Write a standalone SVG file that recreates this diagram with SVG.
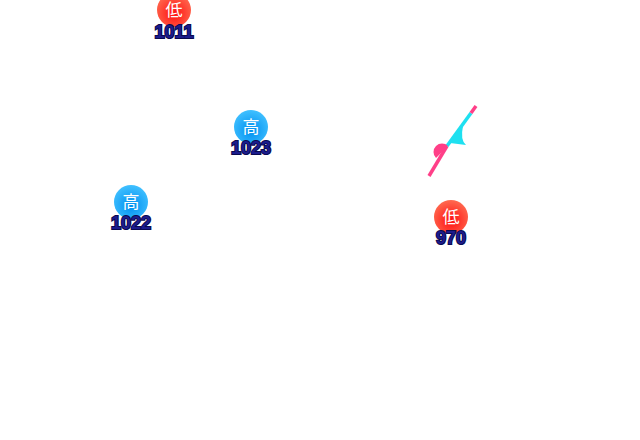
<svg xmlns="http://www.w3.org/2000/svg" width="640" height="440" viewBox="0 0 640 440">
<style>
.lbl{font-family:"Noto Sans CJK JP","Noto Sans",sans-serif;font-size:17px;fill:#fff;text-anchor:middle}
.num{font-family:"Liberation Sans",Arial,sans-serif;font-weight:bold;font-size:18px;fill:#1c1c8c;stroke:#0a0a50;stroke-width:2;paint-order:stroke;text-anchor:middle}
</style>
<defs>
<radialGradient id="gl" cx="0.5" cy="0.6" r="0.6"><stop offset="0" stop-color="#ff1010"/><stop offset="1" stop-color="#ff6a50"/></radialGradient>
<radialGradient id="gh" cx="0.5" cy="0.6" r="0.6"><stop offset="0" stop-color="#0090f0"/><stop offset="1" stop-color="#40c0ff"/></radialGradient>
</defs>
<rect width="640" height="440" fill="#fff"/>
<g id="connectors">
<path d="M429,176 L447,146" stroke="#ff3f88" stroke-width="3.5" fill="none"/>
<path d="M447,146 L471,113" stroke="#1ee0f0" stroke-width="3.5" fill="none"/>
<path d="M471,113 L476,106" stroke="#ff3f88" stroke-width="3.5" fill="none"/>
<path d="M436,158 A7.5,7.5 0 0 1 448,146 Z" fill="#ff3f88"/>
<path d="M450,143 L463,126 Q460,140 466,145 Z" fill="#1ee0f0"/>
</g>
<g id="low1"><circle cx="174" cy="10" r="17" fill="url(#gl)"/><text class="lbl" x="174" y="16">低</text><text class="num" x="174" y="38">1011</text></g>
<g id="high1"><circle cx="251" cy="127" r="17" fill="url(#gh)"/><text class="lbl" x="251" y="133">高</text><text class="num" x="251" y="154">1023</text></g>
<g id="high2"><circle cx="131" cy="202" r="17" fill="url(#gh)"/><text class="lbl" x="131" y="208">高</text><text class="num" x="131" y="229">1022</text></g>
<g id="low2"><circle cx="451" cy="217" r="17" fill="url(#gl)"/><text class="lbl" x="451" y="223">低</text><text class="num" x="451" y="244">970</text></g>
</svg>
